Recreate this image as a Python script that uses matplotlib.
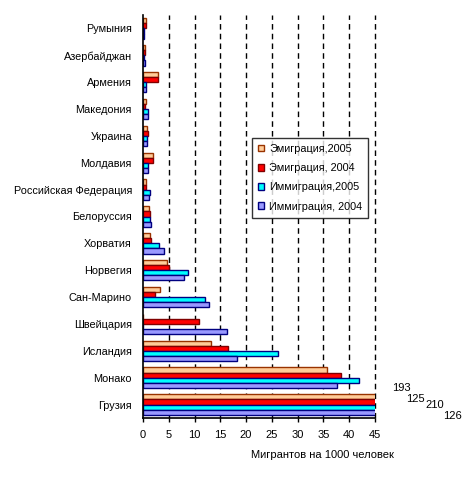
import matplotlib
matplotlib.use("Agg")
import matplotlib.pyplot as plt
import numpy as np

plt.rcParams['font.family'] = ['Liberation Sans', 'DejaVu Sans']

categories = ["Румыния", "Азербайджан", "Армения", "Македония", "Украина", "Молдавия",
              "Российская Федерация", "Белоруссия", "Хорватия", "Норвегия", "Сан-Марино",
              "Швейцария", "Исландия", "Монако", "Грузия"]
emig_2005 = [0.65, 0.4, 3.0, 0.65, 0.85, 2.0, 0.6, 1.2, 1.4, 4.7, 3.35, 0.0, 13.2, 35.7, 193]
emig_2004 = [0.6, 0.4, 3.0, 0.45, 1.05, 2.0, 0.6, 1.4, 1.6, 5.1, 2.4, 10.9, 16.5, 38.4, 125]
immig_2005 = [0.1, 0.2, 0.6, 0.9, 0.7, 1.0, 1.35, 1.4, 3.15, 8.8, 12.1, 0.0, 26.2, 41.9, 210]
immig_2004 = [0.2, 0.4, 0.6, 0.9, 0.85, 1.0, 1.2, 1.6, 4.1, 7.9, 12.8, 16.3, 18.3, 37.6, 126]
series_labels = ["Эмиграция,2005", "Эмиграция, 2004", "Иммиграция,2005", "Иммиграция, 2004"]
xticks = [0, 5, 10, 15, 20, 25, 30, 35, 40, 45]
xlabel = "Мигрантов на 1000 человек"

series = [emig_2005, emig_2004, immig_2005, immig_2004]
faces = ["#FFCC99", "#FF0000", "#00FFFF", "#9999FF"]
edges = ["#993300", "#800000", "#000080", "#000080"]

fig = plt.figure(figsize=(4.66, 4.79), dpi=100)
ax = fig.add_axes([143/466, 1 - 418/479, (375-143)/466, (418-15)/479])

n = len(categories)
y = np.arange(n)[::-1]
h = 0.19
offsets = [0.285, 0.095, -0.095, -0.285]
for vals, fc, ec, off, lab in zip(series, faces, edges, offsets, series_labels):
    ax.barh(y + off, vals, height=h, color=fc, edgecolor=ec, linewidth=1.0, label=lab, zorder=3)

ax.set_xlim(0, 45)
ax.set_ylim(-0.5, n - 0.5)
ax.set_xticks(xticks)
ax.set_yticks(y)
ax.set_yticklabels(categories, fontsize=7.8)
ax.tick_params(axis='y', length=0, pad=8)
ax.tick_params(axis='x', length=3, width=1, direction='out', labelsize=8, pad=6)
for s in ['top', 'right']:
    ax.spines[s].set_visible(False)
for s in ['left', 'bottom']:
    ax.spines[s].set_linewidth(1.2)
    ax.spines[s].set_zorder(4)
for xv in xticks[1:]:
    ax.axvline(xv, color='black', linestyle=(0, (4, 3)), linewidth=1.0, zorder=1, clip_on=False)

# labels for Georgia values
g = n - 1
gvals = [emig_2005[g], emig_2004[g], immig_2005[g], immig_2004[g]]
pos = [(392, 388), (406, 399), (425, 405), (443, 416)]
for v, (px, py) in zip(gvals, pos):
    fig.text(px/466, 1 - py/479, f"{v:g}", fontsize=8, ha='left', va='center')

leg = ax.legend(loc='upper left', bbox_to_anchor=((252-143)/232, 1 - (138-15)/403),
                fontsize=7.8, frameon=True, fancybox=False, edgecolor='black',
                handlelength=0.55, handleheight=0.55, handletextpad=0.5,
                labelspacing=0.85, borderpad=0.55, borderaxespad=0)
leg.get_frame().set_linewidth(1.0)
leg.set_zorder(5)

fig.text(322/466, 1 - 455/479, xlabel, fontsize=8, ha='center', va='center')

fig.savefig("out.png", dpi=100)
